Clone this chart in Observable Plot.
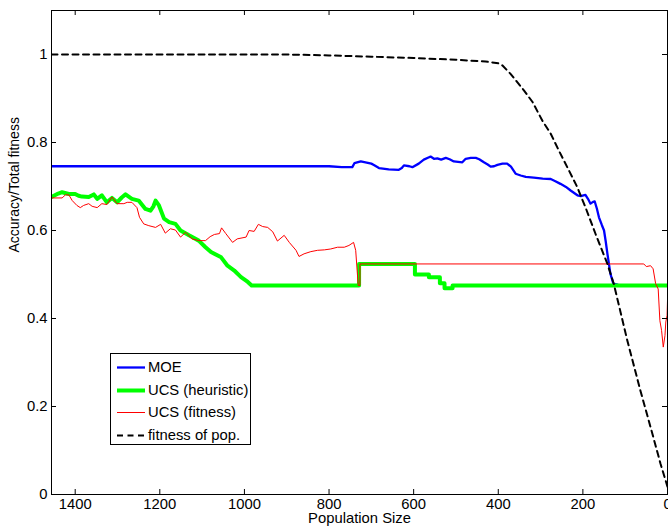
<!DOCTYPE html>
<html>
<head>
<meta charset="utf-8">
<script src="https://cdn.jsdelivr.net/npm/d3@7"></script>
<script src="https://cdn.jsdelivr.net/npm/@observablehq/plot@0.6"></script>
<style>
  body { margin: 0; background: #fff; }
  #wrap { position: relative; width: 668px; height: 529px; overflow: hidden; font-family: "Liberation Sans", Arial, sans-serif; }
  #legend { position: absolute; left: 110px; top: 353px; width: 141px; height: 92px; border: 1px solid #000; background: #fff; box-sizing: border-box; }
  .item { position: absolute; left: 0; height: 20px; font-size: 14.8px; line-height: 20px; color: #000; white-space: nowrap; }
  .item svg { position: absolute; left: 5px; top: 0; }
  .item span { position: absolute; left: 37px; top: 0; }
</style>
</head>
<body>
<div id="wrap"><div id="legend"></div></div>
<script>
// ---- data ----
const xTicks = [1400, 1200, 1000, 800, 600, 400, 200, 0];
const yTicks = [0, 0.2, 0.4, 0.6, 0.8, 1];
const xDomain = [1456, 0];
const yDomain = [0, 1.1];

const seriesNames = ["MOE", "UCS (heuristic)", "UCS (fitness)", "fitness of pop."];

const moe = [[1456,0.746],[800,0.746],[770,0.744],[745,0.744],[740,0.753],[725,0.757],[700,0.752],[694,0.749],[682,0.742],[659,0.739],[635,0.738],[628,0.742],[623,0.748],[610,0.746],[603,0.744],[588,0.752],[576,0.761],[565,0.766],[560,0.768],[552,0.763],[544,0.764],[535,0.761],[524,0.765],[515,0.762],[505,0.757],[485,0.755],[477,0.763],[465,0.765],[453,0.765],[445,0.762],[434,0.755],[425,0.75],[418,0.745],[410,0.746],[402,0.749],[390,0.752],[379,0.752],[370,0.745],[359,0.729],[347,0.725],[335,0.722],[316,0.72],[295,0.718],[276,0.717],[265,0.712],[253,0.706],[240,0.699],[229,0.691],[213,0.68],[205,0.678],[194,0.681],[188,0.672],[182,0.661],[176,0.665],[172,0.666],[167,0.65],[162,0.63],[155,0.612],[150,0.6],[146,0.575],[142,0.547],[135,0.502],[128,0.479],[118,0.477]];

const ucsHeuristic = [[1456,0.676],[1440,0.684],[1431,0.687],[1415,0.683],[1400,0.683],[1392,0.679],[1384,0.677],[1368,0.676],[1356,0.682],[1348,0.672],[1337,0.68],[1325,0.664],[1313,0.674],[1301,0.664],[1290,0.675],[1281,0.682],[1266,0.672],[1250,0.668],[1234,0.649],[1222,0.645],[1215,0.655],[1210,0.668],[1202,0.657],[1190,0.627],[1178,0.619],[1163,0.615],[1151,0.6],[1131,0.589],[1108,0.577],[1092,0.562],[1079,0.551],[1055,0.539],[1040,0.52],[1024,0.509],[1008,0.494],[992,0.483],[983,0.475],[729,0.475],[729,0.524],[597,0.524],[597,0.5],[564,0.5],[564,0.494],[538,0.494],[538,0.48],[527,0.48],[527,0.469],[508,0.469],[508,0.475],[0,0.475]];

const ucsFitness = [[1456,0.674],[1431,0.674],[1423,0.681],[1415,0.681],[1407,0.668],[1396,0.657],[1388,0.652],[1380,0.657],[1368,0.661],[1360,0.655],[1348,0.652],[1337,0.661],[1325,0.659],[1313,0.676],[1301,0.661],[1285,0.661],[1277,0.664],[1266,0.664],[1254,0.652],[1248,0.63],[1238,0.615],[1226,0.611],[1210,0.607],[1198,0.614],[1187,0.594],[1175,0.604],[1163,0.601],[1151,0.585],[1139,0.596],[1124,0.581],[1108,0.577],[1092,0.577],[1081,0.586],[1071,0.591],[1059,0.593],[1054,0.606],[1044,0.593],[1028,0.573],[1017,0.581],[996,0.585],[989,0.6],[977,0.598],[967,0.614],[957,0.609],[945,0.607],[933,0.597],[922,0.576],[906,0.589],[894,0.573],[878,0.555],[871,0.541],[859,0.547],[843,0.552],[827,0.555],[811,0.556],[796,0.558],[780,0.562],[764,0.562],[753,0.566],[742,0.573],[737,0.555],[731,0.475],[727,0.475],[727,0.524],[56,0.524],[50,0.518],[40,0.52],[34,0.513],[28,0.479],[22,0.467],[18,0.395],[14,0.373],[10,0.335],[6,0.361],[4,0.392],[1,0.407],[0,0.44]];

const popFitness = [[1456,1],[900,1],[800,0.998],[700,0.995],[600,0.992],[500,0.988],[430,0.984],[400,0.98],[390,0.975],[371,0.956],[339,0.918],[319,0.892],[296,0.85],[276,0.82],[257,0.782],[237,0.744],[213,0.698],[194,0.653],[170,0.592],[142,0.524],[127,0.479],[95,0.35],[64,0.236],[40,0.153],[16.5,0.07],[2,0.024],[0,0.018]];

// ---- styles ----
const styles = [
  {stroke: "#0000ff", strokeWidth: 2.3, dash: null},
  {stroke: "#00ff00", strokeWidth: 4, dash: null},
  {stroke: "#ff0000", strokeWidth: 1, dash: null},
  {stroke: "#000000", strokeWidth: 2, dash: "6,4.5"}
];
const allSeries = [moe, ucsHeuristic, ucsFitness, popFitness];

const fs = 14.8;
const lineMarks = allSeries.map((s, i) => Plot.line(s, {
  x: d => d[0], y: d => d[1],
  stroke: styles[i].stroke, strokeWidth: styles[i].strokeWidth,
  strokeDasharray: styles[i].dash, strokeLinejoin: "round", clip: true
}));

const chart = Plot.plot({
  width: 668, height: 529,
  marginLeft: 51, marginRight: 1, marginTop: 10, marginBottom: 35,
  style: {fontFamily: "'Liberation Sans', Arial, sans-serif", fontSize: fs + "px", background: "#fff", color: "#000"},
  x: {domain: xDomain},
  y: {domain: yDomain},
  marks: [
    ...lineMarks,
    Plot.axisX(xTicks, {tickSize: 0, tickPadding: 4, fontSize: fs, label: null, tickFormat: d => String(d)}),
    Plot.axisY(yTicks, {tickSize: 0, tickPadding: 4, fontSize: fs, label: null, tickFormat: d => String(d)}),
    // inward ticks (MATLAB style)
    Plot.ruleX(xTicks, {x: d => d, insetTop: 479, stroke: "#000"}),
    Plot.ruleX(xTicks, {x: d => d, insetBottom: 479, stroke: "#000"}),
    Plot.ruleY(yTicks, {y: d => d, insetRight: 611, stroke: "#000"}),
    Plot.ruleY(yTicks, {y: d => d, insetLeft: 611, stroke: "#000"}),
    Plot.frame({stroke: "#000", strokeWidth: 1}),
    Plot.text(["Population Size"], {text: d => d, frameAnchor: "bottom", dy: 28.5, fontSize: fs, fill: "#000"}),
    Plot.text(["Accuracy/Total fitness"], {text: d => d, frameAnchor: "left", dx: -37, rotate: -90, fontSize: 14, fill: "#000"})
  ]
});
document.getElementById("wrap").prepend(chart);

// legend
const legend = document.getElementById("legend");
seriesNames.forEach((name, i) => {
  const item = document.createElement("div");
  item.className = "item";
  item.style.top = (3 + i * 22.5) + "px";
  const st = styles[i];
  item.innerHTML = `<svg width="30" height="20"><line x1="1" y1="10.5" x2="29" y2="10.5" stroke="${st.stroke}" stroke-width="${st.strokeWidth}" ${st.dash ? `stroke-dasharray="${st.dash}"` : ""}/></svg><span>${name}</span>`;
  legend.appendChild(item);
});
</script>
</body>
</html>
